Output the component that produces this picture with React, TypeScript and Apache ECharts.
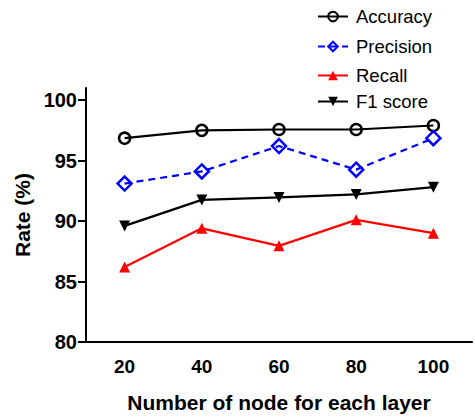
import React, { useEffect, useRef } from "react";
import * as echarts from "echarts";

const categories = ["20", "40", "60", "80", "100"];
const accuracy = [96.85, 97.5, 97.57, 97.57, 97.9];
const precision = [93.1, 94.1, 96.2, 94.25, 96.85];
const recall = [86.2, 89.4, 87.95, 90.1, 89.0];
const f1 = [89.6, 91.75, 91.95, 92.2, 92.8];
const yTicks = [80, 85, 90, 95, 100];
const seriesNames = ["Accuracy", "Precision", "Recall", "F1 score"];
const legendTops = [2, 32, 61, 87];

export default function App() {
  const ref = useRef<HTMLDivElement>(null);
  useEffect(() => {
    if (!ref.current) return;
    const chart = echarts.init(ref.current, null, { renderer: "svg" });
    const font = "Arial, 'Liberation Sans', sans-serif";
    chart.setOption({
      animation: false,
      backgroundColor: "#ffffff",
      textStyle: { fontFamily: font },
      legend: seriesNames.map((n, i) => ({
        data: [n],
        left: 312,
        top: legendTops[i],
        orient: "vertical",
        itemWidth: 30,
        itemHeight: 12,
        itemGap: 12,
        textStyle: { fontSize: 18.5, color: "#000", fontFamily: font, padding: [0, 0, 0, 3] },
      })),
      grid: { left: 86, right: 3, top: 88, bottom: 72 },
      xAxis: {
        type: "category",
        data: categories,
        boundaryGap: true,
        name: "Number of node for each layer",
        nameLocation: "middle",
        nameGap: 50,
        nameTextStyle: { fontSize: 21, fontWeight: "bold", color: "#000", fontFamily: font },
        axisLine: { lineStyle: { color: "#000", width: 2 } },
        axisTick: { alignWithLabel: true, length: 7, lineStyle: { color: "#000", width: 2 } },
        axisLabel: { fontSize: 19, fontWeight: "bold", color: "#000", margin: 15, fontFamily: font },
      },
      yAxis: {
        type: "value",
        min: 80,
        max: 101,
        name: "Rate (%)",
        nameLocation: "middle",
        nameGap: 51,
        nameRotate: 90,
        nameTextStyle: { fontSize: 21, fontWeight: "bold", color: "#000", fontFamily: font },
        splitLine: { show: false },
        axisLine: { show: true, lineStyle: { color: "#000", width: 2 } },
        axisTick: { show: true, length: 8, customValues: yTicks, lineStyle: { color: "#000", width: 2 } },
        axisLabel: { fontSize: 20, fontWeight: "bold", color: "#000", margin: 9, customValues: yTicks, fontFamily: font },
      },
      series: [
        {
          name: "Accuracy",
          type: "line",
          data: accuracy,
          symbol: "circle",
          symbolSize: 11,
          lineStyle: { color: "#000", width: 2.2 },
          itemStyle: { color: "rgba(255,255,255,0)", borderColor: "#000", borderWidth: 2.5 },
        },
        {
          name: "Precision",
          type: "line",
          data: precision,
          symbol: "diamond",
          symbolSize: 14,
          lineStyle: { color: "#0000ff", width: 2.2, type: [7, 5] },
          itemStyle: { color: "rgba(255,255,255,0)", borderColor: "#0000ff", borderWidth: 2.5 },
        },
        {
          name: "Recall",
          type: "line",
          data: recall,
          symbol: "triangle",
          symbolSize: 11,
          lineStyle: { color: "#ff0000", width: 2.2 },
          itemStyle: { color: "#ff0000" },
        },
        {
          name: "F1 score",
          type: "line",
          data: f1,
          symbol: "triangle",
          symbolRotate: 180,
          symbolSize: 11,
          lineStyle: { color: "#000", width: 2.2 },
          itemStyle: { color: "#000" },
        },
      ],
    });
    return () => chart.dispose();
  }, []);
  return <div ref={ref} style={{ width: 475, height: 418, position: "absolute", left: 0, top: 0 }} />;
}
